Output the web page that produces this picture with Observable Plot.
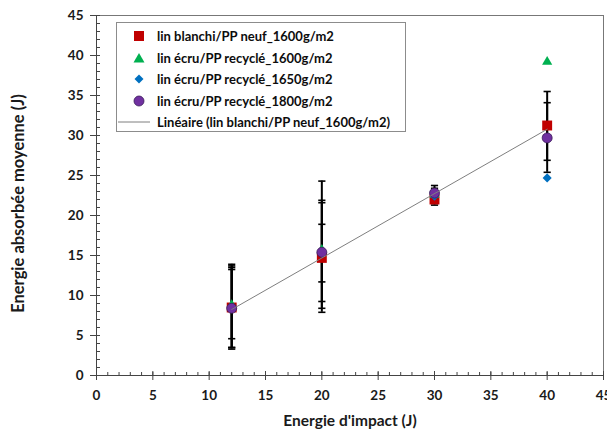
<!DOCTYPE html>
<html>
<head>
<meta charset="utf-8">
<script src="https://cdn.jsdelivr.net/npm/d3@7"></script>
<script src="https://cdn.jsdelivr.net/npm/@observablehq/plot@0.6"></script>
<style>
  html, body { margin: 0; padding: 0; background: #fff; }
  #wrap { position: relative; width: 607px; height: 436px; font-family: Lato, "Open Sans", sans-serif; }
  #legend { position: absolute; left: 116px; top: 22px; width: 290px; height: 110px; border: 1px solid #8c8c8c; background: #fff; box-sizing: border-box; }
  .row { position: absolute; left: 0; height: 20px; display: flex; align-items: center; font-weight: bold; font-size: 13px; color: #0d0d0d; white-space: nowrap; }
  .row svg { flex: none; }
</style>
</head>
<body>
<div id="wrap"></div>
<script>
// ---- data ----
const energies = [12, 20, 30, 40];
const seriesNames = [
  "lin blanchi/PP neuf_1600g/m2",
  "lin écru/PP recyclé_1600g/m2",
  "lin écru/PP recyclé_1650g/m2",
  "lin écru/PP recyclé_1800g/m2"
];
const trendName = "Linéaire (lin blanchi/PP neuf_1600g/m2)";
const xTitle = "Energie d'impact (J)";
const yTitle = "Energie absorbée moyenne (J)";
const blanchi1600 = [8.5, 14.7, 22.0, 31.25];
const ecru1600 = [8.8, 15.7, 22.6, 39.2];
const ecru1650 = [8.5, 15.3, 22.4, 24.7];
const ecru1800 = [8.4, 15.4, 22.8, 29.7];
const blanchi1600Low = [3.3, 7.9, 21.3, 26.9];
const blanchi1600High = [13.7, 21.6, 22.7, 35.5];
const ecru1600Low = [3.5, 8.4, 22.0, null];
const ecru1600High = [13.9, 24.3, 23.4, null];
const ecru1650Low = [4.6, 11.7, null, null];
const ecru1650High = [13.25, 18.9, null, null];
const ecru1800Low = [3.5, 9.25, 22.1, 25.4];
const ecru1800High = [13.5, 21.9, 23.75, 34.1];
const xTicks = [0, 5, 10, 15, 20, 25, 30, 35, 40, 45];
const yTicks = [0, 5, 10, 15, 20, 25, 30, 35, 40, 45];
const minorTicks = d3.range(0, 46, 1);

// ---- tables ----
const values = [blanchi1600, ecru1600, ecru1650, ecru1800];
const lows = [blanchi1600Low, ecru1600Low, ecru1650Low, ecru1800Low];
const highs = [blanchi1600High, ecru1600High, ecru1650High, ecru1800High];
const pts = values.map(v => energies.map((x, i) => ({x, y: v[i]})));
const bars = [];
const caps = [];
lows.forEach((lo, s) => energies.forEach((x, i) => {
  if (lo[i] != null) {
    bars.push({x, lo: lo[i], hi: highs[s][i]});
    caps.push({x, y: lo[i]}, {x, y: highs[s][i]});
  }
}));

const capSymbol = {
  draw(ctx, size) {
    const w = Math.sqrt(size / Math.PI);
    ctx.moveTo(-w, 0); ctx.lineTo(w, 0);
  }
};

const colors = ["#C00000", "#00B050", "#0070C0", "#7030A0"];
const font = "Lato, 'Open Sans', sans-serif";

const chart = Plot.plot({
  width: 607,
  height: 436,
  marginLeft: 96,
  marginRight: 4,
  marginTop: 15,
  marginBottom: 61,
  style: {fontFamily: font, fontSize: "13.5px", fontWeight: "bold", color: "#1a1a1a", background: "#fff", overflow: "visible"},
  x: {domain: [0, 45]},
  y: {domain: [0, 45]},
  marks: [
    Plot.frame({stroke: "#777"}),
    // minor ticks (inside)
    Plot.axisY(minorTicks, {anchor: "left", tickSize: 4, dx: 4, tickFormat: () => "", label: null, stroke: "#444"}),
    Plot.axisX(minorTicks, {anchor: "bottom", tickSize: 3, dy: -3, tickFormat: () => "", label: null, stroke: "#444"}),
    // major ticks
    Plot.axisX(xTicks, {anchor: "bottom", tickSize: 4, dy: -4, tickFormat: () => "", label: null, stroke: "#444"}),
    Plot.axisY(yTicks, {anchor: "left", tickSize: 6, tickPadding: 7, stroke: "#444", fill: "#1a1a1a", label: null}),
    Plot.axisX(xTicks, {anchor: "bottom", tickSize: 5, tickPadding: 10, stroke: "#444", fill: "#1a1a1a", label: null}),
    Plot.ruleY([0], {stroke: "#444"}),
    Plot.ruleX([0], {stroke: "#444"}),
    // axis titles
    Plot.text([xTitle], {text: d => d, frameAnchor: "bottom", dy: 50, fontSize: 15.5, fontWeight: "bold", fill: "#1a1a1a"}),
    Plot.text([yTitle], {text: d => d, frameAnchor: "left", textAnchor: "middle", rotate: -90, dx: -78, dy: 8, fontSize: 16.5, fontWeight: "bold", fill: "#1a1a1a"}),
    // error bars
    Plot.ruleX(bars, {x: "x", y1: "lo", y2: "hi", stroke: "#000", strokeWidth: 2}),
    Plot.dot(caps, {x: "x", y: "y", symbol: capSymbol, r: 3.6, stroke: "#000", strokeWidth: 1.6, fill: "none"}),
    // series markers
    Plot.dot(pts[0], {x: "x", y: "y", symbol: "square", r: 5.6, fill: colors[0], stroke: "none"}),
    Plot.dot(pts[1], {x: "x", y: "y", symbol: "triangle", r: 3.8, fill: colors[1], stroke: "none"}),
    Plot.dot(pts[2], {x: "x", y: "y", symbol: "diamond2", r: 4.1, fill: colors[2], stroke: "none"}),
    Plot.dot(pts[3], {x: "x", y: "y", symbol: "circle", r: 5, fill: colors[3], stroke: "#3b1d59", strokeWidth: 0.8}),
    // trend line
    Plot.linearRegressionY(pts[0], {x: "x", y: "y", ci: 0, stroke: "#7f7f7f", strokeWidth: 1})
  ]
});

const wrap = document.getElementById("wrap");
wrap.appendChild(chart);

// legend
const legend = document.createElement("div");
legend.id = "legend";
const symbolsLeg = [
  `<rect x="7" y="5" width="10" height="10" fill="${colors[0]}"/>`,
  `<polygon points="12,5 17.5,14.5 6.5,14.5" fill="${colors[1]}"/>`,
  `<polygon points="12,5.5 16.5,10 12,14.5 7.5,10" fill="${colors[2]}"/>`,
  `<circle cx="12" cy="10" r="5" fill="${colors[3]}" stroke="#3b1d59" stroke-width="0.8"/>`,
  `<line x1="1" y1="10" x2="33" y2="10" stroke="#7f7f7f" stroke-width="1"/>`
];
const labels = [...seriesNames, trendName];
labels.forEach((t, i) => {
  const row = document.createElement("div");
  row.className = "row";
  row.style.top = (3 + i * 21.6) + "px";
  const w = i === 4 ? 36 : 24;
  const lpad = i === 4 ? 0 : 10;
  row.innerHTML = `<svg width="${w}" height="20" style="margin-left:${lpad}px;margin-right:${i === 4 ? 4 : 6}px">${symbolsLeg[i]}</svg><span>${t}</span>`;
  legend.appendChild(row);
});
wrap.appendChild(legend);
</script>
</body>
</html>
